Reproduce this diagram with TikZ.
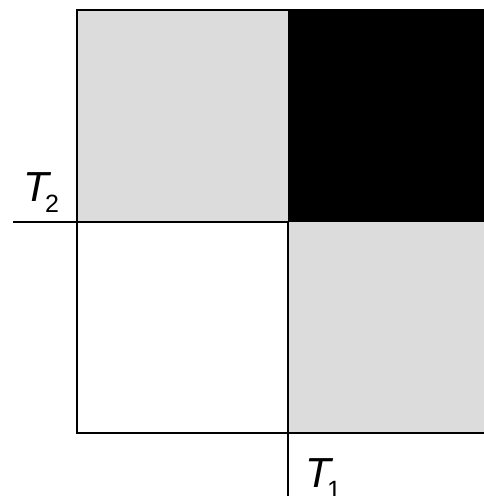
\documentclass[tikz,border=0pt]{standalone}
\usepackage{fontspec}
\setmainfont{Liberation Sans}
\definecolor{lgray}{HTML}{DCDCDC}
\begin{document}
\begin{tikzpicture}[x=1pt,y=1pt,
  edge/.style={line width=2pt,black},
  bigT/.style={inner sep=0pt,anchor=base west,font=\fontsize{42}{42}\selectfont\itshape},
  subT/.style={inner sep=0pt,anchor=base west,font=\fontsize{25}{25}\selectfont}]
\useasboundingbox (0,0) rectangle (484,496);
\begin{scope}
\clip (0,0) rectangle (484,496);
\fill[lgray] (77,274) rectangle (288,486);
\fill[black] (288,274) rectangle (495,486);
\fill[lgray] (288,63) rectangle (495,274);
\draw[edge] (495,486) -- (77,486) -- (77,63) -- (495,63);
\coordinate (t2s) at (13,274);
\coordinate (t2e) at (288,274);
\coordinate (t1s) at (288,274);
\coordinate (t1e) at (288,496);
\draw[edge] (t2s) -- (t2e);
\draw[edge] (288,274) -- (288,0);
\end{scope}
\node[bigT] (T2) at (23,294) {T};
\node[subT] (T2s) at (45,283) {2};
\node[bigT] (T1) at (305,9) {T};
\node[subT] (T1s) at (327,-2) {1};
\end{tikzpicture}
\end{document}
